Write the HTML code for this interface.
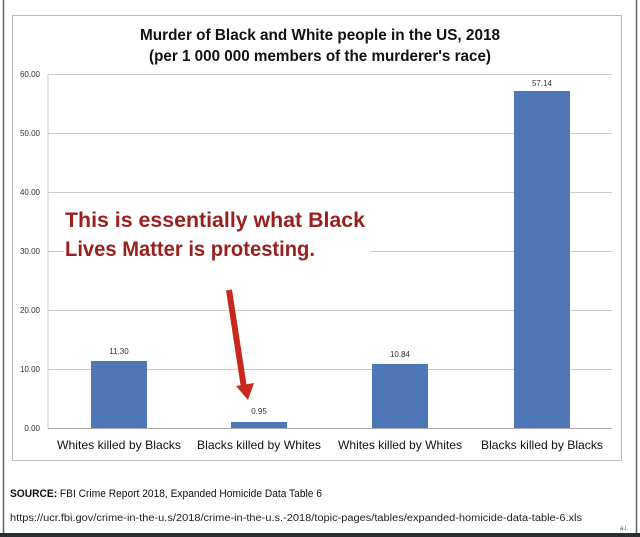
<!DOCTYPE html>
<html><head><meta charset="utf-8"><style>
html,body{margin:0;padding:0;background:#fff;}
svg{display:block;}
text{font-family:"Liberation Sans",sans-serif;}
</style></head><body>
<svg width="640" height="537" viewBox="0 0 640 537" xmlns="http://www.w3.org/2000/svg">
<rect x="0" y="0" width="640" height="537" fill="#fff"/>
<line x1="3.5" y1="0" x2="3.5" y2="533" stroke="#666" stroke-width="1.5"/>
<line x1="636.5" y1="0" x2="636.5" y2="533" stroke="#666" stroke-width="1.5"/>
<rect x="0" y="533" width="640" height="4" fill="#2a2d33"/>
<rect x="12.5" y="15.5" width="609" height="445" fill="none" stroke="#bbb" stroke-width="1"/>
<text x="320" y="40" font-size="16" font-weight="bold" text-anchor="middle" fill="#111" textLength="360" lengthAdjust="spacingAndGlyphs">Murder of Black and White people in the US, 2018</text>
<text x="320" y="61" font-size="16" font-weight="bold" text-anchor="middle" fill="#111" textLength="342" lengthAdjust="spacingAndGlyphs">(per 1 000 000 members of the murderer's race)</text>
<g stroke="#ccc" stroke-width="1">
<line x1="48" y1="74.5" x2="612" y2="74.5"/>
<line x1="48" y1="133.5" x2="612" y2="133.5"/>
<line x1="48" y1="192.5" x2="612" y2="192.5"/>
<line x1="48" y1="251.5" x2="612" y2="251.5"/>
<line x1="48" y1="310.5" x2="612" y2="310.5"/>
<line x1="48" y1="369.5" x2="612" y2="369.5"/>
<line x1="48" y1="74" x2="48" y2="428"/>
</g>
<line x1="48" y1="428.5" x2="612" y2="428.5" stroke="#aaa" stroke-width="1"/>
<g font-size="8" fill="#333" text-anchor="end">
<text x="40" y="77">60.00</text><text x="40" y="136">50.00</text><text x="40" y="195">40.00</text>
<text x="40" y="254">30.00</text><text x="40" y="313">20.00</text><text x="40" y="372">10.00</text><text x="40" y="431">0.00</text>
</g>
<rect x="64" y="205" width="306" height="60" fill="#fff"/>
<g fill="#4f76b6">
<rect x="91" y="361" width="56" height="67"/>
<rect x="231" y="422" width="56" height="6"/>
<rect x="372" y="364" width="56" height="64"/>
<rect x="514" y="91" width="56" height="337"/>
</g>
<g font-size="8" fill="#333" text-anchor="middle">
<text x="119" y="354">11.30</text><text x="259" y="414">0.95</text><text x="400" y="357">10.84</text><text x="542" y="86">57.14</text>
</g>
<g font-size="12" fill="#111" text-anchor="middle">
<text x="119" y="449" textLength="124" lengthAdjust="spacingAndGlyphs">Whites killed by Blacks</text>
<text x="259" y="449" textLength="124" lengthAdjust="spacingAndGlyphs">Blacks killed by Whites</text>
<text x="400" y="449" textLength="124" lengthAdjust="spacingAndGlyphs">Whites killed by Whites</text>
<text x="542" y="449" textLength="122" lengthAdjust="spacingAndGlyphs">Blacks killed by Blacks</text>
</g>
<g font-size="21" font-weight="bold" fill="#9c1f1f">
<text x="65" y="227" textLength="300" lengthAdjust="spacingAndGlyphs">This is essentially what Black</text>
<text x="65" y="256" textLength="250" lengthAdjust="spacingAndGlyphs">Lives Matter is protesting.</text>
</g>
<line x1="229" y1="290" x2="244" y2="388" stroke="#c8281e" stroke-width="6"/>
<polygon points="236,386 254,383 248,400" fill="#c8281e"/>
<text x="10" y="497" font-size="11" fill="#111" textLength="312" lengthAdjust="spacingAndGlyphs"><tspan font-weight="bold">SOURCE:</tspan> FBI Crime Report 2018, Expanded Homicide Data Table 6</text>
<text x="10" y="521" font-size="10" fill="#222" textLength="572" lengthAdjust="spacingAndGlyphs">https://ucr.fbi.gov/crime-in-the-u.s/2018/crime-in-the-u.s.-2018/topic-pages/tables/expanded-homicide-data-table-6.xls</text>
<text x="620" y="530" font-size="6" fill="#555">a.l.</text>
</svg>
</body></html>
